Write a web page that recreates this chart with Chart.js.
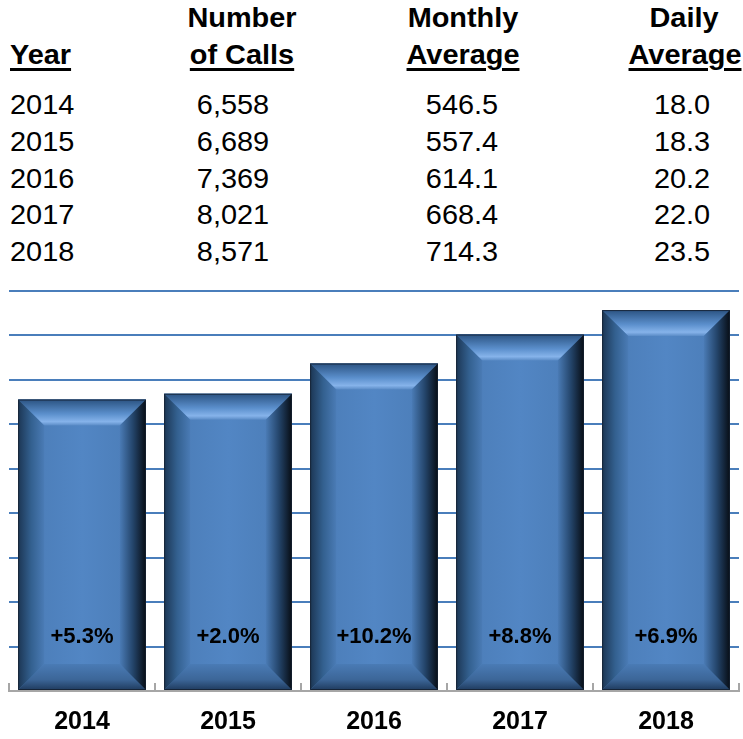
<!DOCTYPE html>
<html>
<head>
<meta charset="utf-8">
<script src="https://cdn.jsdelivr.net/npm/chart.js@4"></script>
<style>
  html, body { margin: 0; padding: 0; background: #fff; }
  body { width: 743px; height: 739px; position: relative; overflow: hidden;
         font-family: "Liberation Sans", Arial, sans-serif; color: #000; }
  .t { position: absolute; font-size: 27px; line-height: 27px; white-space: nowrap; }
  .h { font-weight: bold; }
  .u { text-decoration: underline; text-decoration-thickness: 3px; text-underline-offset: 4px; }
  #wrap { position: absolute; left: 0; top: 280px; width: 743px; height: 459px; }
</style>
</head>
<body>
<div id="table"></div>
<div id="wrap"><canvas id="callsChart"></canvas></div>
<script>
const years = ['2014', '2015', '2016', '2017', '2018'];
const calls = [6558, 6689, 7369, 8021, 8571];
const monthlyAvg = ['546.5', '557.4', '614.1', '668.4', '714.3'];
const dailyAvg = ['18.0', '18.3', '20.2', '22.0', '23.5'];
const pctChange = ['+5.3%', '+2.0%', '+10.2%', '+8.8%', '+6.9%'];
const yTicks = [0, 1000, 2000, 3000, 4000, 5000, 6000, 7000, 8000, 9000];

// table above the chart (text in the original is a bit wide, hence the stretch)
const table = document.getElementById('table');
function put(text, x, baseline, cls, align) {
    const d = document.createElement('div');
    d.className = 't ' + (cls || '');
    d.textContent = text;
    d.style.top = (baseline - 23) + 'px';
    d.style.left = x + 'px';
    if (align === 'left') {
        d.style.transformOrigin = 'left center';
        d.style.transform = 'scaleX(1.07)';
    } else {
        d.style.transform = 'translateX(-50%) scaleX(1.07)';
    }
    table.appendChild(d);
}
put('Year', 10, 65, 'h u', 'left');
put('Number', 242, 28, 'h');
put('of Calls', 242, 65, 'h u');
put('Monthly', 463, 28, 'h');
put('Average', 463, 65, 'h u');
put('Daily', 684, 28, 'h');
put('Average', 685, 65, 'h u');
const rowBase = [115, 152, 189, 225, 262];
years.forEach((y, i) => {
    put(y, 10, rowBase[i], '', 'left');
    put(calls[i].toLocaleString('en-US'), 233, rowBase[i]);
    put(monthlyAvg[i], 462, rowBase[i]);
    put(dailyAvg[i], 682, rowBase[i]);
});

// bevel look for the bars
const bevelPlugin = {
    id: 'bevel',
    afterDatasetsDraw(chart) {
        const ctx = chart.ctx;
        const meta = chart.getDatasetMeta(0);
        const yScale = chart.scales.y;
        meta.data.forEach((el, i) => {
            const l = el.x - el.width / 2, r = el.x + el.width / 2;
            const t = el.y, b = el.base;
            const bv = 26;
            ctx.save();
            // face
            let g = ctx.createLinearGradient(l, 0, r, 0);
            g.addColorStop(0, '#4a7bb5');
            g.addColorStop(0.5, '#5286c4');
            g.addColorStop(1, '#4a7bb5');
            ctx.fillStyle = g;
            ctx.fillRect(l, t, r - l, b - t);
            // top bevel
            g = ctx.createLinearGradient(0, t, 0, t + bv);
            g.addColorStop(0, '#2b5382');
            g.addColorStop(0.55, '#5b8fcc');
            g.addColorStop(0.85, '#86b3ea');
            g.addColorStop(1, '#5a8bc6');
            ctx.fillStyle = g;
            ctx.beginPath();
            ctx.moveTo(l, t); ctx.lineTo(r, t); ctx.lineTo(r - bv, t + bv); ctx.lineTo(l + bv, t + bv);
            ctx.closePath(); ctx.fill();
            // bottom bevel
            g = ctx.createLinearGradient(0, b - bv, 0, b);
            g.addColorStop(0, '#4a7bb5');
            g.addColorStop(0.6, '#3c6698');
            g.addColorStop(1, '#1f3b5e');
            ctx.fillStyle = g;
            ctx.beginPath();
            ctx.moveTo(l, b); ctx.lineTo(r, b); ctx.lineTo(r - bv, b - bv); ctx.lineTo(l + bv, b - bv);
            ctx.closePath(); ctx.fill();
            // left bevel
            g = ctx.createLinearGradient(l, 0, l + bv, 0);
            g.addColorStop(0, '#1c3654');
            g.addColorStop(0.5, '#33608f');
            g.addColorStop(1, '#4a7bb5');
            ctx.fillStyle = g;
            ctx.beginPath();
            ctx.moveTo(l, t); ctx.lineTo(l + bv, t + bv); ctx.lineTo(l + bv, b - bv); ctx.lineTo(l, b);
            ctx.closePath(); ctx.fill();
            // right bevel
            g = ctx.createLinearGradient(r - bv, 0, r, 0);
            g.addColorStop(0, '#4a7bb5');
            g.addColorStop(0.5, '#24456b');
            g.addColorStop(1, '#070d15');
            ctx.fillStyle = g;
            ctx.beginPath();
            ctx.moveTo(r, t); ctx.lineTo(r - bv, t + bv); ctx.lineTo(r - bv, b - bv); ctx.lineTo(r, b);
            ctx.closePath(); ctx.fill();
            // thin dark outline
            ctx.strokeStyle = 'rgba(20,30,45,0.8)';
            ctx.lineWidth = 1;
            ctx.strokeRect(l + 0.5, t + 0.5, r - l - 1, b - t - 1);
            // percent label
            ctx.fillStyle = '#000';
            ctx.font = 'bold 22px "Liberation Sans", Arial, sans-serif';
            ctx.textAlign = 'center';
            ctx.textBaseline = 'middle';
            ctx.fillText(pctChange[i], el.x, yScale.getPixelForValue(1210));
            ctx.restore();
        });
    },
    afterDraw(chart) {
        // small category tick marks pointing up from the axis
        const ctx = chart.ctx;
        const xs = chart.scales.x;
        const n = years.length;
        ctx.save();
        ctx.strokeStyle = '#a6a6a6';
        ctx.lineWidth = 2;
        for (let i = 0; i <= n; i++) {
            const x = Math.round(xs.left + i * xs.width / n);
            ctx.beginPath();
            ctx.moveTo(x, xs.top - 8);
            ctx.lineTo(x, xs.top);
            ctx.stroke();
        }
        ctx.restore();
    }
};

new Chart(document.getElementById('callsChart'), {
    type: 'bar',
    data: {
        labels: years,
        datasets: [{
            data: calls,
            backgroundColor: '#4f81bd',
            barPercentage: 0.875,
            categoryPercentage: 1
        }]
    },
    options: {
        responsive: true,
        maintainAspectRatio: false,
        animation: false,
        layout: { padding: { top: 11, left: 9, right: 4, bottom: 0 } },
        plugins: {
            legend: { display: false },
            tooltip: { enabled: false }
        },
        scales: {
            x: {
                afterFit: s => { s.height = 48; },
                grid: { display: false, drawTicks: false },
                border: { display: true, color: '#a6a6a6', width: 2 },
                ticks: {
                    padding: 16,
                    color: '#000',
                    font: { family: '"Liberation Sans", Arial, sans-serif', size: 25, weight: 'bold' }
                }
            },
            y: {
                min: 0,
                max: 9000,
                afterBuildTicks: s => { s.ticks = yTicks.map(v => ({ value: v })); },
                afterFit: s => { s.width = 0; },
                ticks: { display: false },
                border: { display: false },
                grid: {
                    drawTicks: false,
                    lineWidth: 2,
                    color: c => c.tick.value === 0 ? 'rgba(0,0,0,0)' : '#4a7ebb'
                }
            }
        }
    },
    plugins: [bevelPlugin]
});
</script>
</body>
</html>
